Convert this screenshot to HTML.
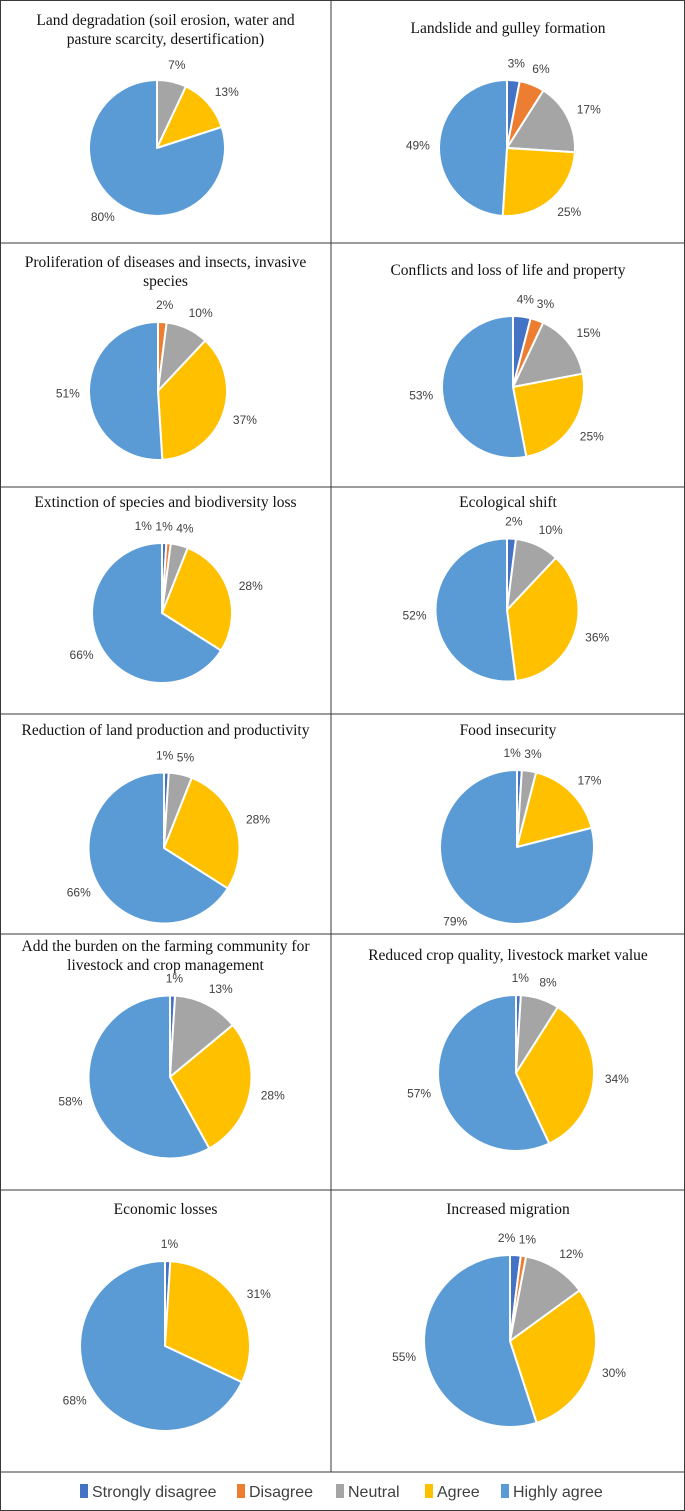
<!DOCTYPE html>
<html><head><meta charset="utf-8"><style>
html,body{margin:0;padding:0;background:#fff;}
svg{display:block;}
</style></head><body>
<svg id="chart" width="685" height="1511" viewBox="0 0 685 1511" xmlns="http://www.w3.org/2000/svg">
<rect x="0" y="0" width="685" height="1511" fill="#fff"/>
<g id="grid" stroke="#3a3a3a" stroke-width="1" fill="none">
<rect x="0.5" y="0.5" width="684" height="1510"/>
<line x1="331" y1="0" x2="331" y2="1472"/>
<line x1="0" y1="243" x2="685" y2="243"/>
<line x1="0" y1="487" x2="685" y2="487"/>
<line x1="0" y1="714" x2="685" y2="714"/>
<line x1="0" y1="934" x2="685" y2="934"/>
<line x1="0" y1="1190" x2="685" y2="1190"/>
<line x1="0" y1="1472" x2="685" y2="1472"/>
</g>
<g id="pies"></g>
<g id="legend" font-family="Liberation Sans, sans-serif" font-size="16" fill="#404040"></g>
</svg>
<script>
const categories = ["Strongly disagree","Disagree","Neutral","Agree","Highly agree"];
const colors = ["#4472C4","#ED7D31","#A5A5A5","#FFC000","#5B9BD5"];
const titles = [
 ["Land degradation (soil erosion, water and","pasture scarcity, desertification)"],
 ["Landslide and gulley formation"],
 ["Proliferation of diseases and insects, invasive","species"],
 ["Conflicts and loss of life and property"],
 ["Extinction of species and biodiversity loss"],
 ["Ecological shift"],
 ["Reduction of land production and productivity"],
 ["Food insecurity"],
 ["Add the burden on the farming community for","livestock and crop management"],
 ["Reduced crop quality, livestock market value"],
 ["Economic losses"],
 ["Increased migration"]
];
const values = [
 [0,0,7,13,80],
 [3,6,17,25,49],
 [0,2,10,37,51],
 [4,3,15,25,53],
 [1,1,4,28,66],
 [2,0,10,36,52],
 [1,0,5,28,66],
 [1,0,3,17,79],
 [1,0,13,28,58],
 [1,0,8,34,57],
 [1,0,0,31,68],
 [2,1,12,30,55]
];
// layout (not data)
const layout = [
 {cx:157,cy:148,r:68,ty:20},
 {cx:507,cy:148,r:68,ty:28},
 {cx:158,cy:391,r:69,ty:262},
 {cx:513,cy:387,r:71,ty:270},
 {cx:162,cy:613,r:70,ty:502},
 {cx:507,cy:610,r:71.5,ty:502},
 {cx:164,cy:848,r:75.5,ty:730},
 {cx:517,cy:847,r:77,ty:730},
 {cx:170,cy:1077,r:81.5,ty:946},
 {cx:516,cy:1073,r:78,ty:955},
 {cx:165,cy:1346,r:85,ty:1209},
 {cx:510,cy:1341,r:86,ty:1209}
];
const NS="http://www.w3.org/2000/svg";
const pies=document.getElementById('pies');
function mk(t,a){const e=document.createElementNS(NS,t);for(const k in a)e.setAttribute(k,a[k]);return e;}
function pt(cx,cy,r,a){return [cx+r*Math.sin(a),cy-r*Math.cos(a)];}
values.forEach((vals,i)=>{
 const L=layout[i];
 const g=mk('g',{});
 
 
 pies.appendChild(g);
 const colX=i%2===0?165.5:508;
 titles[i].forEach((line,j)=>{
  const t=mk('text',{x:colX,y:L.ty+5+j*19,'text-anchor':'middle','font-family':'Liberation Serif, serif','font-size':'15.5',fill:'#111'});
  t.textContent=line;
  
  
  g.appendChild(t);
 });
 const total=vals.reduce((a,b)=>a+b,0);
 let acc=0;
 const labels=[];
 vals.forEach((v,k)=>{
  if(v<=0)return;
  const a0=acc/total*2*Math.PI; acc+=v; const a1=acc/total*2*Math.PI;
  const p0=pt(L.cx,L.cy,L.r,a0),p1=pt(L.cx,L.cy,L.r,a1);
  const large=(a1-a0)>Math.PI?1:0;
  const path=mk('path',{d:`M${L.cx},${L.cy} L${p0[0]},${p0[1]} A${L.r},${L.r} 0 ${large} 1 ${p1[0]},${p1[1]} Z`,fill:colors[k],stroke:'#fff','stroke-width':'2','stroke-linejoin':'round'});
  
  
  g.appendChild(path);
  const am=(a0+a1)/2;
  const lp=pt(L.cx,L.cy,L.r+17,am);
  const txt=v+'%';
  const w=txt.length*7.4;
  const s=Math.sin(am);
  let left;
  if(s>0.25) left=lp[0]-6; else if(s<-0.25) left=lp[0]+6-w; else left=lp[0]-w/2;
  labels.push({txt,left,w,y:lp[1]+4});
 });
 // resolve overlaps: shift earlier labels left
 for(let k=labels.length-2;k>=0;k--){
  const a=labels[k],b=labels[k+1];
  if(Math.abs(a.y-b.y)<14 && a.left+a.w+4>b.left && a.left<b.left+b.w){
   a.left=b.left-a.w-6;
  }
 }
 labels.forEach(o=>{
  const lbl=mk('text',{x:o.left,y:o.y,'text-anchor':'start','font-family':'Liberation Sans, sans-serif','font-size':'12',fill:'#404040'});
  lbl.textContent=o.txt;
  
  
  g.appendChild(lbl);
 });
});
const lg=document.getElementById('legend');
const legX=[80,237,336,425,501];
categories.forEach((c,k)=>{
 const r=mk('rect',{x:legX[k],y:1484,width:8,height:14,fill:colors[k]});
 
 
 lg.appendChild(r);
 const t=mk('text',{x:legX[k]+12,y:1497});
 t.textContent=c;
 
 
 lg.appendChild(t);
});
</script>
</body></html>
